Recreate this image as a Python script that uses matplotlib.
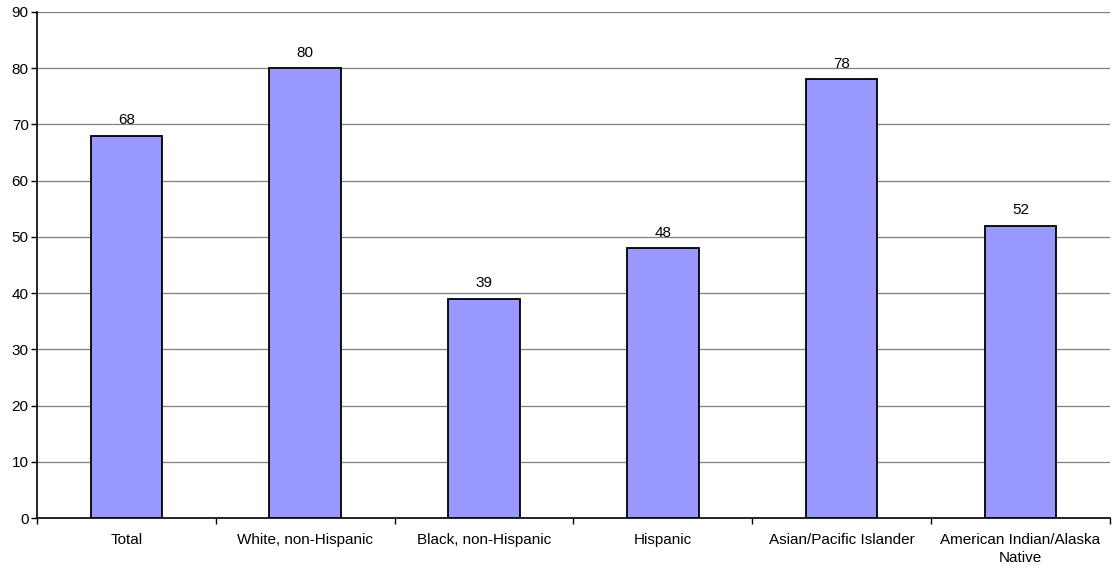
import numpy as np
import matplotlib
matplotlib.use("Agg")
import matplotlib.pyplot as plt

# Values per group, percent
categories = [
    "Total",
    "White, non-Hispanic",
    "Black, non-Hispanic",
    "Hispanic",
    "Asian/Pacific Islander",
    "American Indian/Alaska\nNative",
]
values = [68, 80, 39, 48, 78, 52]
y_ticks = list(range(0, 100, 10))

plt.rcParams["font.family"] = ["Liberation Sans", "DejaVu Sans"]
plt.rcParams["font.size"] = 11

fig = plt.figure(figsize=(11.12, 5.69), dpi=100)
ax = fig.add_axes([0.0333, 0.0896, 0.9647, 0.8894])

x = np.arange(len(categories))
bars = ax.bar(x, values, width=0.4, color="#9999FF", edgecolor="black",
              linewidth=1.3, zorder=3)

for rect, v in zip(bars, values):
    ax.text(rect.get_x() + rect.get_width() / 2, v + 1.5, f"{v}",
            ha="center", va="bottom", fontsize=11)

ax.set_xlim(-0.5, len(categories) - 0.5)
ax.set_ylim(0, 90)
ax.set_yticks(y_ticks)
ax.yaxis.grid(True, color="#808080", linewidth=0.9, zorder=0)

# category labels centred, ticks on the boundaries
ax.set_xticks(x)
ax.set_xticklabels(categories, linespacing=1.3)
ax.tick_params(axis="x", length=0, pad=11)
ax.set_xticks(np.arange(-0.5, len(categories)), minor=True)
ax.tick_params(axis="x", which="minor", length=4, width=1, color="black")
ax.tick_params(axis="y", length=4, width=1, pad=2)

for side in ["top", "right"]:
    ax.spines[side].set_visible(False)
ax.spines["left"].set_linewidth(1.2)
ax.spines["bottom"].set_linewidth(1.2)

fig.savefig("out.png", dpi=100)
